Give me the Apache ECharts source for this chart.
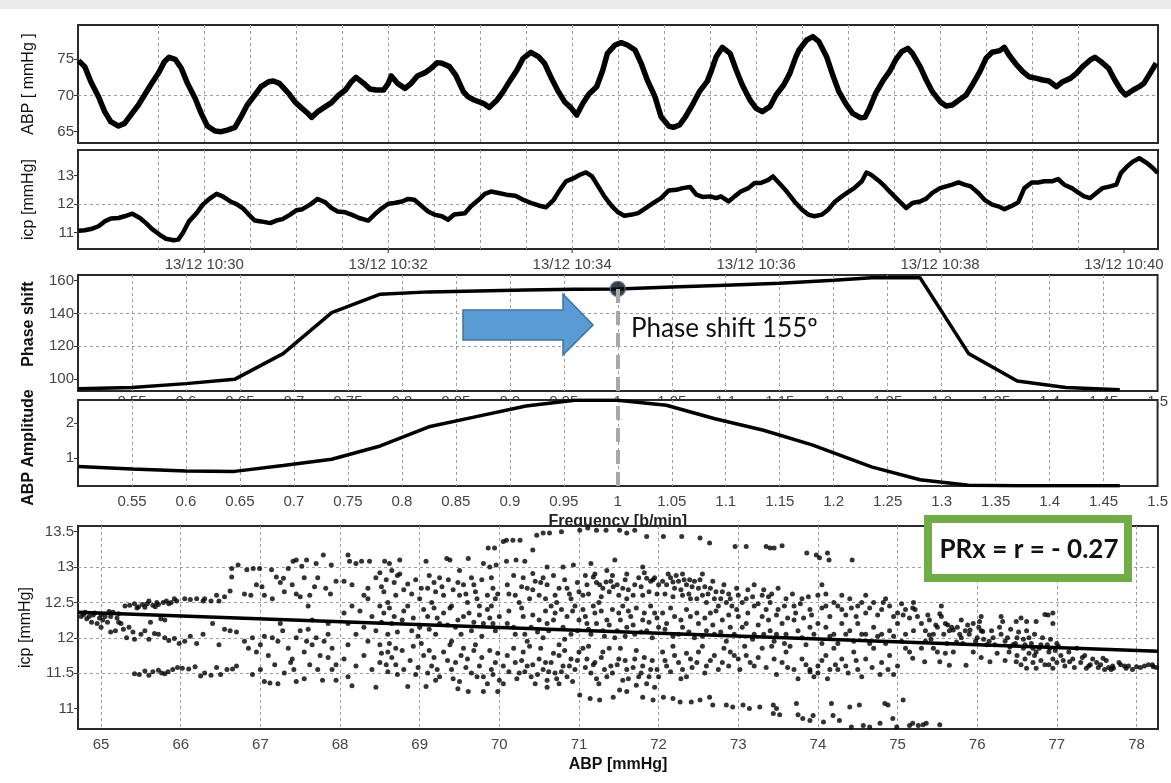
<!DOCTYPE html>
<html>
<head>
<meta charset="utf-8">
<script src="https://cdn.jsdelivr.net/npm/echarts@6/dist/echarts.min.js"></script>
<style>
  html, body { margin: 0; padding: 0; background: #fff; }
  #chart { width: 1171px; height: 783px; }
</style>
</head>
<body>
<div id="chart"></div>
<script>
// ---- Time series: seconds relative to 13/12 10:30:00 ----
const abpTrace = [
  [-82,74.82],[-78,73.99],[-74,71.91],[-69,69.84],[-65,67.77],[-61,66.38],[-56,65.78],[-52,66.15],[-48,67.30],[-43,68.69],
  [-39,70.07],[-35,71.45],[-30,73.06],[-26,74.68],[-23,75.28],[-19,75.0],[-15,73.76],[-11,71.68],[-6,69.61],[-2,67.53],
  [2,65.78],[7,65.09],[11,65.0],[15,65.23],[20,65.60],[24,67.07],[28,68.69],[33,70.07],[37,71.22],[42,71.91],
  [45,72.0],[49,71.68],[55,70.30],[59,69.15],[63,68.36],[68,67.44],[70,66.98],[74,67.77],[79,68.46],[83,69.01],
  [87,69.93],[92,70.76],[96,71.91],[99,72.51],[104,71.68],[108,70.90],[112,70.76],[117,70.76],[120,71.68],[122,72.70],
  [126,71.68],[131,70.99],[135,71.68],[139,72.70],[144,73.16],[148,73.76],[152,74.54],
  [155,74.45],[160,73.99],[164,72.83],[169,70.53],[172,69.84],[176,69.38],[182,68.92],[186,68.36],[191,69.38],[195,70.53],
  [199,71.91],[204,73.53],[208,75.14],[213,75.97],[218,75.37],[222,74.45],[226,72.60],[231,70.53],[235,69.15],[239,68.36],
  [243,67.30],[247,68.92],[251,70.21],[256,71.22],[260,73.53],[263,75.83],[268,76.98],[272,77.30],[276,76.98],[281,76.29],
  [285,74.45],[289,72.14],[294,69.84],[298,67.07],[303,65.78],[306,65.60],[310,65.92],[314,67.07],[319,68.92],[323,70.53],
  [328,71.91],[331,73.53],[334,75.37],[338,76.66],[343,75.83],[347,73.53],[351,71.45],[356,69.38],[360,68.23],[364,67.77],
  [369,68.46],[373,70.07],[378,71.45],[382,73.06],[386,75.37],
  [388,76.29],[393,77.67],[397,78.13],[401,77.44],[406,75.37],[410,72.83],[414,70.53],[419,68.69],[423,67.53],[428,66.94],
  [431,66.98],[434,68.23],[438,70.30],[443,72.14],[447,73.29],[451,74.91],[455,76.06],[459,76.52],[462,75.83],[467,73.99],
  [471,72.14],[475,70.53],[480,69.15],[484,68.55],[488,68.69],[493,69.47],[497,70.07],[501,71.45],[506,73.29],[510,75.14],
  [514,75.97],[519,76.20],[522,76.66],[525,75.60],[530,74.22],[534,73.29],[538,72.60],[543,72.37],[547,72.14],[551,72.0],
  [556,71.22],[560,71.91],[565,72.37],[569,73.06],[573,73.99],[578,74.91],[581,75.28],[585,74.68],[590,73.76],[594,72.14],
  [598,70.76],[601,70.07],[606,70.76],[610,71.22],[613,71.68],[617,73.06],[621,74.45]
];

const icpTrace = [
  [-82,11.06],[-78,11.08],[-74,11.12],[-69,11.22],[-65,11.39],[-61,11.49],[-56,11.51],[-52,11.57],[-47,11.66],[-42,11.51],
  [-38,11.33],[-34,11.12],[-29,10.92],[-25,10.78],[-20,10.73],[-17,10.75],[-14,10.98],[-10,11.39],[-5,11.68],[-1,11.98],
  [4,12.21],[8,12.36],[12,12.27],[17,12.09],[21,12.0],[25,11.86],[29,11.63],[33,11.42],[37,11.39],[43,11.33],
  [47,11.42],[51,11.47],[56,11.63],[60,11.78],[64,11.82],[69,11.98],[74,12.18],[79,12.06],[83,11.86],[87,11.74],
  [92,11.71],[96,11.63],[101,11.51],[107,11.42],[111,11.63],[116,11.86],[120,12.01],[124,12.04],[129,12.09],[133,12.18],
  [137,12.15],[142,11.92],[146,11.74],[150,11.63],
  [155,11.57],[159,11.45],[163,11.63],[170,11.68],[174,11.92],[179,12.15],[183,12.36],[187,12.44],[192,12.39],[197,12.33],
  [203,12.29],[208,12.15],[213,12.04],[218,11.95],[223,11.89],[228,12.15],[232,12.50],[236,12.80],[241,12.91],[245,13.03],
  [249,13.11],[253,12.97],[257,12.62],[261,12.27],[266,11.92],[270,11.71],[274,11.59],[279,11.63],[283,11.68],[287,11.82],
  [293,12.04],[298,12.21],[303,12.48],[308,12.50],[312,12.56],[317,12.60],[321,12.33],[325,12.25],[330,12.27],[334,12.21],
  [337,12.27],[342,12.09],[346,12.27],[350,12.44],[355,12.56],[359,12.74],[363,12.74],[368,12.85],[371,12.97],[375,12.74],
  [380,12.44],[385,12.09],
  [390,11.80],[394,11.63],[398,11.57],[403,11.63],[407,11.80],[411,12.06],[416,12.27],[420,12.42],[424,12.56],[429,12.80],
  [432,13.11],[435,13.03],[440,12.82],[444,12.62],[448,12.39],[453,12.12],[458,11.86],[462,12.04],[467,12.09],[471,12.19],
  [475,12.39],[480,12.56],[484,12.62],[488,12.68],[492,12.76],[496,12.68],[500,12.62],[505,12.39],[509,12.15],[514,11.98],
  [518,11.92],[522,11.82],[527,11.94],[531,12.06],[535,12.56],[540,12.76],[544,12.76],[548,12.80],[553,12.80],[557,12.88],
  [561,12.68],[566,12.56],[570,12.41],[574,12.27],[578,12.21],[582,12.39],[586,12.56],[591,12.62],[595,12.68],[598,13.09],
  [602,13.32],[606,13.50],[610,13.61],[615,13.44],[619,13.26],[622,13.09]
];

// ---- Transfer function: frequency [b/min] ----
const phaseShift = [
  [0.5,94.0],[0.55,94.8],[0.6,97.2],[0.645,99.8],[0.69,115.5],[0.735,140.5],[0.78,151.8],[0.825,153.2],[0.87,153.8],
  [0.915,154.4],[0.96,154.8],[1.0,155],[1.05,156.2],[1.1,157.3],[1.15,158.4],[1.2,160.3],[1.235,161.8],[1.28,161.8],
  [1.325,115.5],[1.37,98.8],[1.415,94.8],[1.465,93.4]
];
const abpAmplitude = [
  [0.5,0.76],[0.55,0.69],[0.6,0.63],[0.645,0.62],[0.69,0.79],[0.735,0.97],[0.78,1.35],[0.825,1.9],[0.87,2.2],
  [0.915,2.5],[0.96,2.66],[1.0,2.66],[1.045,2.52],[1.09,2.13],[1.135,1.8],[1.18,1.38],[1.235,0.75],[1.28,0.38],
  [1.325,0.22],[1.37,0.21],[1.415,0.21],[1.465,0.21]
];
const selectedFreq = 1.0;
const selectedPhase = 155;

// ---- ABP vs icp scatter ----
const prxPoints = [
  [64.78,12.33],[64.85,12.30],[64.92,12.35],[65.0,12.33],[65.05,12.30],[65.1,12.37],[65.15,12.36],[65.22,12.34],[65.3,12.45],[65.36,12.46],
  [65.42,12.48],[65.47,12.44],[65.55,12.43],[65.6,12.52],[65.65,12.46],[65.72,12.47],[65.78,12.5],[65.82,12.52],[65.88,12.5],[65.95,12.52],
  [66.05,12.55],[66.12,12.54],[66.2,12.55],[66.28,12.52],[66.38,12.52],[66.48,12.52],[66.55,12.58],[66.62,12.66],[65.75,12.27],[65.8,12.25],
  [65.68,12.44],[65.52,12.47],
  [64.75,12.3],[64.8,12.36],[64.9,12.32],[64.98,12.28],[65.02,12.25],[65.12,12.3],[65.2,12.28],[65.25,12.2],[65.45,12.42],[65.58,12.48],
  [65.7,12.5],[65.85,12.48],[65.92,12.55],
  [64.82,12.27],[64.88,12.22],[64.95,12.2],[65.0,12.15],[65.08,12.22],[65.12,12.08],[65.18,12.1],[65.22,12.22],[65.28,12.12],[65.32,12.0],
  [65.35,12.15],[65.4,12.08],[65.42,11.98],[65.5,12.05],[65.55,12.1],[65.6,11.98],[65.62,12.22],[65.67,12.06],[65.72,12.05],[65.8,12.0],
  [65.85,11.96],[65.92,11.99],[65.98,11.92],[66.05,11.95],[66.12,12.02],[66.2,11.92],[66.28,12.05],[66.4,12.2],[66.48,11.9],[66.55,12.12],
  [66.62,12.1],[66.7,12.08],
  [65.42,11.49],[65.48,11.48],[65.55,11.53],[65.6,11.47],[65.65,11.52],[65.72,11.54],[65.76,11.5],[65.8,11.49],[65.84,11.52],[65.9,11.55],
  [65.96,11.58],[66.02,11.57],[66.1,11.56],[66.18,11.59],[66.25,11.46],[66.3,11.5],[66.38,11.47],[66.45,11.58],[66.5,11.48],[66.58,11.55],
  [66.65,11.56],[66.7,11.6],
  [66.64,12.98],[66.72,13.03],[66.64,12.86],[66.83,12.96],[66.91,12.98],[66.99,12.98],[67.14,12.96],[67.2,12.86],[67.29,12.84],[67.35,12.98],
  [67.41,13.08],[67.45,13.1],[67.52,13.01],[67.58,13.1],[67.7,13.05],[67.79,13.17],[67.89,13.03],
  [66.8,12.62],[66.88,12.6],[66.95,12.75],[67.05,12.6],[67.15,12.55],[67.3,12.65],[67.5,12.58],[67.68,12.72],[67.82,12.7],[67.95,12.8],
  [66.3,12.55],[66.45,12.6],[67.6,12.45],[67.4,12.75],
  [67.02,12.72],[67.25,12.78],[67.45,12.62],[67.62,12.6],[67.72,12.85],[67.88,12.62],[67.55,12.85],
  [66.8,11.95],[66.85,11.85],[66.9,12.0],[66.95,11.8],[67.0,11.9],[67.05,12.02],[67.1,11.75],[67.15,12.0],[67.22,11.95],[67.28,12.1],
  [67.35,11.85],[67.4,11.7],[67.5,12.1],[67.55,11.8],[67.6,12.12],[67.65,11.9],[67.7,12.0],[67.75,11.75],[67.8,11.95],[67.85,12.2],
  [67.9,11.85],[67.95,11.62],[67.25,12.2],[67.45,12.0],[67.65,12.25],[67.85,12.05],[67.58,11.95],
  [66.9,11.48],[67.0,11.55],[67.05,11.38],[67.12,11.36],[67.18,11.62],[67.22,11.35],[67.3,11.5],[67.38,11.65],[67.45,11.38],[67.55,11.42],
  [67.72,11.55],[67.78,11.4],[67.9,11.55],[67.95,11.4],[67.42,11.55],[67.62,11.62],[67.85,11.72],
  [68.05,12.8],[68.1,13.17],[68.12,13.08],[68.15,12.75],[68.2,13.05],[68.27,13.08],[68.3,12.6],[68.35,12.7],[68.37,13.08],[68.45,12.85],
  [68.5,12.92],[68.55,12.65],[68.56,13.08],[68.62,13.05],[68.65,12.95],[68.7,12.6],[68.75,13.1],[68.8,12.68],[68.9,12.62],[69.0,12.55],
  [68.6,12.5],[68.75,12.9],
  [68.05,12.35],[68.1,12.2],[68.15,12.45],[68.2,12.05],[68.25,12.38],[68.3,12.15],[68.35,11.95],[68.4,12.3],[68.45,12.1],[68.5,11.9],
  [68.55,12.35],[68.6,12.05],[68.65,12.2],[68.7,11.85],[68.8,12.38],[68.9,12.1],[69.0,12.15],[68.35,12.55],[68.5,12.45],[68.6,11.8],
  [68.1,11.9],
  [68.05,11.7],[68.1,11.45],[68.15,11.32],[68.2,11.6],[68.3,11.75],[68.4,11.55],[68.45,11.3],[68.5,11.65],[68.6,11.52],[68.7,11.62],
  [68.65,11.72],[68.8,11.55],[68.85,11.31],[68.95,11.48],
  [68.52,12.72],[68.58,12.82],[68.68,12.78],[68.72,12.88],[68.85,12.76],[68.95,12.82],[69.02,12.7],[69.12,12.88],[69.18,12.78],[69.28,12.72],
  [69.36,12.82],[69.42,12.68],[69.48,12.78],[69.58,12.62],[69.68,12.75],[69.72,12.55],[69.78,12.82],[69.92,12.7],[69.98,12.62],
  [68.52,12.22],[68.62,12.42],[68.68,12.3],[68.72,12.08],[68.78,12.25],[68.85,12.45],[68.92,12.28],[68.98,12.02],[69.05,12.4],[69.12,12.12],
  [69.18,12.42],[69.22,12.28],[69.35,12.18],[69.38,12.42],[69.48,12.25],[69.52,12.05],[69.62,12.35],[69.68,12.22],[69.75,12.32],[69.78,12.02],
  [69.88,12.28],[69.92,12.2],
  [68.52,11.78],[68.58,11.62],[68.62,11.92],[68.72,11.48],[68.78,11.82],[68.88,11.68],[68.92,11.88],[68.98,11.58],[69.02,11.92],[69.12,11.82],
  [69.18,11.72],[69.22,11.55],[69.35,11.68],[69.38,11.9],[69.42,11.42],[69.52,11.75],[69.58,11.58],[69.68,11.82],[69.72,11.45],[69.78,11.72],
  [69.88,11.82],[69.92,11.48],[69.98,11.78],
  [69.08,13.08],[69.34,13.12],[69.38,13.1],[69.61,13.12],[69.5,12.95],[69.8,13.05],[69.9,12.85],[69.88,13.0],[69.96,13.03],
  [69.1,12.7],[69.15,12.5],[69.2,12.65],[69.3,12.6],[69.4,12.45],[69.5,12.6],[69.55,12.75],[69.6,12.5],[69.7,12.65],[69.75,12.45],
  [69.85,12.6],[69.9,12.45],[69.95,12.55],[69.25,12.85],[69.65,12.85],
  [69.1,12.3],[69.2,12.05],[69.25,12.2],[69.3,12.35],[69.4,11.95],[69.45,12.15],[69.55,12.3],[69.65,12.1],[69.7,11.9],[69.8,12.2],
  [69.85,12.4],[69.95,12.1],[70.0,12.3],
  [69.05,11.75],[69.1,11.5],[69.15,11.6],[69.25,11.45],[69.3,11.8],[69.4,11.55],[69.45,11.65],[69.5,11.38],[69.6,11.7],[69.65,11.5],
  [69.75,11.6],[69.8,11.45],[69.85,11.35],[69.9,11.55],[69.95,11.65],[70.0,11.4],[69.2,11.4],[69.55,11.85],
  [69.08,11.31],[69.48,11.28],[69.61,11.24],[69.8,11.24],[69.98,11.24],
  [69.86,13.27],[69.94,13.27],[70.05,13.36],[70.09,13.38],[70.17,13.38],[70.26,13.38],[70.42,13.24],[70.47,13.45],[70.55,13.48],[70.63,13.48],
  [70.78,13.5],[71.01,13.52],[71.11,13.55],[71.22,13.52],[71.34,13.52],[71.51,13.52],[71.6,13.48],[71.7,13.52],[71.85,13.43],[72.06,13.43],
  [72.29,13.43],[72.52,13.41],[72.64,13.34],[72.96,13.29],[73.1,13.29],[73.35,13.29],[73.4,13.27],
  [70.09,13.08],[70.21,13.1],[70.32,13.08],[70.42,12.91],[70.93,13.03],[71.18,12.86],[71.26,12.75],[71.34,12.79],[71.43,12.72],[71.85,12.84],
  [71.93,12.82],[72.18,12.79],[72.39,12.82],[70.6,13.0],[70.8,13.0],[71.15,13.05],[71.45,13.1],[71.8,13.0],
  [70.1,12.75],[70.2,12.6],[70.3,12.85],[70.35,12.7],[70.45,12.8],[70.5,12.6],[70.6,12.75],[70.7,12.6],[70.75,12.7],[70.85,12.7],
  [70.9,12.55],[71.0,12.65],[70.55,12.85],[70.25,12.5],[70.65,12.45],[70.95,12.45],
  [70.12,12.62],[70.18,12.88],[70.28,12.72],[70.38,12.55],[70.42,12.68],[70.52,12.78],[70.58,12.55],[70.68,12.88],[70.72,12.5],[70.82,12.82],
  [70.88,12.62],[70.98,12.78],
  [70.1,12.2],[70.2,12.05],[70.3,12.3],[70.4,12.15],[70.5,12.25],[70.55,12.0],[70.6,12.2],[70.7,12.35],[70.8,12.15],[70.85,12.3],
  [70.9,12.05],[71.0,12.25],[70.35,11.95],[70.75,11.9],
  [70.12,12.38],[70.18,12.15],[70.28,12.42],[70.32,12.05],[70.42,12.32],[70.48,12.08],[70.58,12.38],[70.62,12.1],[70.68,12.25],[70.78,12.4],
  [70.82,11.98],[70.92,12.38],[70.98,12.1],
  [70.05,11.6],[70.1,11.75],[70.2,11.65],[70.25,11.5],[70.3,11.8],[70.35,11.6],[70.4,11.45],[70.5,11.7],[70.55,11.55],[70.6,11.4],
  [70.65,11.65],[70.7,11.5],[70.75,11.75],[70.8,11.6],[70.85,11.45],[70.9,11.7],[70.95,11.55],[71.0,11.8],[70.6,11.3],[70.75,11.35],
  [70.05,11.35],[70.45,11.35],
  [70.12,11.52],[70.18,11.85],[70.22,11.42],[70.28,11.68],[70.32,11.52],[70.38,11.88],[70.42,11.62],[70.48,11.48],[70.52,11.85],[70.58,11.65],
  [70.62,11.52],[70.68,11.78],[70.72,11.42],[70.78,11.52],[70.82,11.82],[70.88,11.6],[70.92,11.38],[70.98,11.68],
  [71.05,12.6],[71.1,12.75],[71.2,12.9],[71.3,12.7],[71.35,12.95],[71.4,12.8],[71.5,12.6],[71.55,12.7],[71.6,12.55],[71.7,12.75],
  [71.75,12.85],[71.8,12.6],[71.9,12.8],[71.95,12.85],[72.0,12.75],[71.6,12.9],
  [71.08,12.88],[71.12,12.62],[71.22,12.78],[71.28,12.58],[71.38,12.65],[71.42,12.88],[71.48,12.75],[71.58,12.82],[71.62,12.68],[71.68,12.6],
  [71.78,12.72],[71.82,12.92],[71.88,12.65],[71.98,12.62],
  [71.05,12.4],[71.1,12.2],[71.15,12.05],[71.2,12.35],[71.3,12.1],[71.35,12.25],[71.45,12.0],[71.5,12.35],[71.6,12.15],[71.65,12.3],
  [71.7,12.05],[71.8,12.25],[71.85,12.1],[71.95,12.35],[72.0,12.15],[71.25,12.5],[71.55,12.45],[71.9,12.45],
  [71.08,12.3],[71.12,12.12],[71.18,12.45],[71.22,12.2],[71.28,12.38],[71.32,12.02],[71.38,12.18],[71.42,12.4],[71.48,12.1],[71.52,12.25],
  [71.58,12.02],[71.62,12.38],[71.68,12.18],[71.72,12.42],[71.78,12.08],[71.82,12.35],[71.88,12.22],[71.92,12.0],[71.98,12.28],
  [71.05,11.85],[71.1,11.7],[71.15,11.5],[71.2,11.65],[71.3,11.8],[71.35,11.45],[71.4,11.6],[71.5,11.7],[71.55,11.4],[71.6,11.55],
  [71.7,11.7],[71.75,11.45],[71.8,11.6],[71.85,11.35],[71.9,11.55],[71.95,11.3],[72.0,11.45],[71.25,11.35],
  [71.08,11.58],[71.12,11.88],[71.18,11.62],[71.22,11.42],[71.28,11.72],[71.32,11.55],[71.38,11.85],[71.42,11.5],[71.48,11.62],[71.52,11.85],
  [71.58,11.68],[71.62,11.42],[71.68,11.58],[71.72,11.82],[71.78,11.5],[71.82,11.72],[71.88,11.45],[71.92,11.68],[71.98,11.55],
  [71.01,11.19],[71.14,11.14],[71.26,11.12],[71.43,11.16],[71.51,11.26],[71.6,11.24],[71.72,11.33],[71.8,11.16],[71.93,11.12],[72.06,11.16],
  [72.18,11.14],[72.27,11.09],[72.41,11.09],[72.52,11.12],[72.64,11.16],[72.68,11.05],[72.85,11.05],[72.93,11.02],[73.06,11.05],[73.14,11.0],
  [73.27,11.02],[73.44,10.93],[73.48,11.0],
  [73.44,11.05],[73.52,10.91],[73.73,11.07],[73.75,10.91],[73.81,10.86],[73.9,10.83],[73.94,10.9],[74.07,10.81],[74.17,11.07],[74.19,10.9],
  [74.27,10.83],[74.4,11.02],[74.42,10.74],[74.52,11.05],[74.57,10.76],[74.65,10.74],[74.78,10.79],[74.84,11.07],[74.88,11.05],[74.94,10.86],
  [74.99,10.74],[75.07,11.12],[75.15,10.76],[75.19,10.79],[75.26,10.76],[75.32,10.77],[75.36,10.79],[75.53,10.77],
  [72.05,12.8],[72.1,12.75],[72.15,12.85],[72.2,12.7],[72.25,12.8],[72.3,12.6],[72.35,12.75],[72.4,12.55],[72.45,12.8],[72.5,12.7],
  [72.55,12.6],[72.6,12.5],[72.65,12.7],[72.7,12.55],[72.8,12.65],[72.85,12.5],[72.9,12.55],[73.0,12.6],[72.3,12.9],[72.55,12.9],
  [72.08,12.62],[72.12,12.9],[72.18,12.58],[72.22,12.88],[72.28,12.68],[72.32,12.82],[72.38,12.62],[72.42,12.72],[72.48,12.55],[72.52,12.82],
  [72.58,12.72],[72.62,12.62],[72.68,12.8],[72.72,12.65],[72.78,12.55],[72.82,12.75],[72.88,12.62],[72.92,12.45],[72.98,12.7],[73.05,12.5],
  [73.12,12.68],[73.18,12.58],[73.25,12.48],[73.32,12.68],[73.38,12.58],
  [72.05,12.35],[72.1,12.2],[72.2,12.3],[72.25,12.05],[72.3,12.15],[72.4,12.3],[72.45,12.0],[72.5,12.2],[72.6,12.1],[72.65,12.35],
  [72.7,12.05],[72.8,12.25],[72.85,11.95],[72.9,12.15],[73.0,12.3],[72.75,12.45],
  [72.08,12.12],[72.15,12.42],[72.18,12.02],[72.28,12.25],[72.35,12.4],[72.38,12.08],[72.48,12.35],[72.55,12.02],[72.58,12.28],[72.68,12.18],
  [72.72,12.38],[72.78,12.08],[72.88,12.32],[72.95,12.05],[72.98,12.4],[73.05,12.15],[73.12,12.35],[73.18,11.98],[73.25,12.18],[73.32,12.05],
  [73.38,12.25],
  [72.05,11.8],[72.1,11.6],[72.2,11.75],[72.3,11.55],[72.4,11.7],[72.5,11.8],[72.6,11.6],[72.7,11.75],[72.8,11.65],[72.9,11.8],
  [73.0,11.7],[72.35,11.45],
  [72.08,11.68],[72.15,11.52],[72.18,11.88],[72.25,11.65],[72.28,11.42],[72.35,11.78],[72.42,11.58],[72.48,11.65],[72.55,11.88],[72.58,11.5],
  [72.65,11.68],[72.75,11.55],[72.82,11.85],[72.88,11.6],[72.95,11.75],[73.02,11.55],[73.08,11.88],[73.15,11.65],[73.25,11.72],[73.35,11.58],
  [73.1,12.55],[73.2,12.45],[73.3,12.6],[73.4,12.5],[73.5,12.4],[73.6,12.55],[73.7,12.45],[73.8,12.55],[73.9,12.4],[74.0,12.6],
  [74.05,12.75],[74.1,12.62],[73.2,12.75],[73.5,12.7],
  [73.42,12.62],[73.48,12.32],[73.58,12.45],[73.62,12.28],[73.68,12.62],[73.72,12.35],[73.78,12.48],[73.82,12.28],[73.88,12.58],[73.92,12.32],
  [74.05,12.42],[74.15,12.3],[74.25,12.45],[74.35,12.32],[74.42,12.42],[74.48,12.3],[74.55,12.5],[74.65,12.42],[74.75,12.32],[74.82,12.5],
  [74.95,12.3],[75.05,12.48],[75.15,12.28],[75.22,12.4],
  [73.1,12.2],[73.2,12.05],[73.3,12.3],[73.4,12.1],[73.45,11.95],[73.55,12.2],[73.6,12.05],[73.7,12.25],[73.8,12.0],[73.9,12.15],
  [74.0,12.2],[73.35,12.4],
  [73.42,11.88],[73.48,12.05],[73.58,11.92],[73.65,11.88],[73.75,12.1],[73.85,11.9],[73.95,12.05],[74.05,11.92],[74.15,12.02],[74.25,11.92],
  [74.35,12.05],[74.45,11.95],[74.55,12.05],[74.65,11.92],[74.75,12.02],[74.85,11.92],[74.95,12.02],[75.05,11.95],
  [73.1,11.75],[73.2,11.6],[73.3,11.85],[73.45,11.7],[73.6,11.8],[73.7,11.55],[73.8,11.7],[73.9,11.55],[74.0,11.6],[73.55,11.65],
  [73.48,11.48],[73.62,11.58],[73.75,11.42],[73.85,11.62],[73.95,11.45],[74.05,11.68],[74.12,11.42],[74.22,11.62],[74.38,11.5],[74.48,11.68],
  [74.55,11.45],[74.68,11.58],[74.78,11.48],[74.88,11.55],[74.95,11.48],
  [73.45,13.27],[73.55,13.3],[73.86,13.2],[73.98,13.17],[74.02,13.13],[74.12,13.2],[74.14,13.1],[74.43,13.1],
  [74.1,12.45],[74.2,12.5],[74.3,12.4],[74.4,12.55],[74.5,12.45],[74.6,12.35],[74.7,12.5],[74.8,12.4],[74.9,12.45],[75.0,12.35],
  [75.1,12.4],[75.2,12.5],[75.25,12.3],[74.3,12.6],[74.6,12.6],[74.85,12.55],
  [74.1,12.15],[74.2,12.05],[74.3,12.2],[74.4,12.1],[74.5,12.2],[74.6,12.05],[74.7,12.15],[74.8,12.05],[74.9,12.1],[75.0,12.2],
  [75.1,12.05],[75.2,12.1],
  [74.1,11.75],[74.2,11.85],[74.3,11.7],[74.35,11.6],[74.45,11.8],[74.5,11.55],[74.6,11.7],[74.7,11.85],[74.8,11.65],[74.9,11.75],
  [75.0,11.6],[74.25,11.55],[74.0,11.5],[73.9,11.52],[74.15,11.55],
  [75.07,12.32],[75.19,12.42],[75.38,12.32],[75.53,12.34],[75.63,12.18],[75.7,12.11],[75.91,12.11],[76.03,12.23],[76.07,12.09],[76.32,12.23],
  [76.49,12.23],[76.62,12.23],[76.74,12.23],[76.89,12.32],[76.95,12.2],
  [75.3,12.2],[75.4,12.25],[75.5,12.15],[75.55,12.3],[75.6,12.2],[75.65,12.1],[75.75,12.15],[75.8,12.25],[75.85,12.1],[75.9,12.05],
  [75.95,12.2],[76.0,12.0],[75.45,12.05],[75.55,12.45],[75.3,11.85],[75.45,11.85],[75.7,11.8],[75.95,11.8],[75.35,11.95],[75.8,12.0],
  [75.1,11.85],[75.15,11.8],[75.5,11.8],[75.6,11.78],[75.4,12.04],[75.74,11.94],[76.12,11.9],[76.41,11.87],[76.58,11.85],[76.74,11.8],
  [76.91,11.85],
  [75.35,12.1],[75.42,11.98],[75.48,12.18],[75.58,12.05],[75.62,11.92],[75.68,12.15],[75.78,12.05],[75.82,11.92],[75.88,12.18],[75.98,11.95],
  [76.02,12.15],[76.08,11.98],[76.18,12.1],[76.22,11.9],[76.28,12.15],[76.38,12.0],[76.42,12.12],[76.48,11.92],[76.52,12.08],[76.58,11.98],
  [76.62,12.1],[76.68,11.92],[76.72,12.05],[76.78,11.85],[76.82,12.0],[76.88,11.9],[76.92,11.98],[76.98,11.82],[77.02,11.88],
  [75.19,11.71],[75.34,11.66],[75.53,11.66],[75.65,11.61],[75.86,11.61],[76.16,11.66],[76.49,11.66],[76.62,11.57],[76.74,11.57],[76.95,11.57],
  [77.16,11.66],[77.37,11.57],[77.58,11.71],[77.71,11.57],[77.87,11.57],[78.0,11.59],[78.21,11.59],
  [76.05,12.1],[76.15,11.95],[76.2,12.0],[76.3,12.05],[76.35,11.95],[76.45,11.9],[76.5,12.0],[76.6,11.9],[76.65,12.0],[76.7,11.85],
  [76.8,11.9],[76.9,11.8],[77.0,11.92],[76.05,12.3],[76.3,12.3],[76.55,12.28],[76.85,12.33],[76.95,12.35],
  [76.5,11.75],[76.6,11.7],[76.7,11.65],[76.8,11.68],[76.9,11.62],[77.0,11.65],[76.65,11.78],[76.95,11.7],[76.4,11.8],
  [76.05,11.72],[76.25,11.78],[76.35,11.68],[76.55,11.62],[76.72,11.75],[76.85,11.62],[77.08,11.68],[77.22,11.58],[77.32,11.72],[77.42,11.62],
  [77.52,11.58],[77.62,11.68],[77.68,11.55],[77.78,11.65],[77.85,11.6],[77.95,11.55],[78.05,11.58],[78.15,11.62],[78.25,11.58],
  [77.1,11.6],[77.2,11.7],[77.3,11.65],[77.35,11.75],[77.4,11.6],[77.5,11.65],[77.6,11.55],[77.7,11.6],[77.8,11.62],[77.9,11.6],
  [78.1,11.6],[78.2,11.62],[77.15,11.8],[77.25,11.85],[77.05,11.75],[77.45,11.7],[77.55,11.62],[77.65,11.58]
];
const prxFit = [[64.71,12.36],[78.27,11.81]];
const prxValue = -0.27;

// ---- Axis extents and tick labels ----
const timeRange = [-82.4, 622.2];
const timeGrid = [-60, -30, 0, 30, 60, 90, 120, 150, 180, 210, 240, 270, 300, 330, 360, 390, 420, 450, 480, 510, 540, 570, 600];
const timeLabelTicks = [0, 120, 240, 360, 480, 600];
const abpRange = [63.44, 79.74];   const abpTicks = [65, 70, 75];
const icpRange = [10.42, 13.9];    const icpTicks = [11, 12, 13];
const phaseRange = [92.7, 163.5];  const phaseTicks = [100, 120, 140, 160];
const ampRange = [0.2, 2.67];      const ampTicks = [1, 2];
const freqRange = [0.5, 1.5];
const scatterXRange = [64.71, 78.27];
const scatterXTicks = [65, 66, 67, 68, 69, 70, 71, 72, 73, 74, 75, 76, 77, 78];
const scatterYRange = [10.71, 13.58];
const scatterYTicks = [11, 11.5, 12, 12.5, 13, 13.5];

const FONT = '"Liberation Sans", Arial, sans-serif';
const gridLine = { show: true, showMinLine: false, showMaxLine: false,
  lineStyle: { color: '#9c9c9c', type: [3, 3], width: 1 } };
const tickLabel = { color: '#444', fontSize: 15, fontFamily: FONT };
const noLine = { show: false, onZero: false };

function clockLabel(v) {
  const mm = 30 + Math.round(v / 60);
  return '13/12 10:' + String(mm).padStart(2, '0');
}

function yAxis(gridIndex, range, ticks, splitNumber, name, bold, extra) {
  return Object.assign({
    type: 'value', gridIndex, min: range[0], max: range[1], splitNumber,
    axisLine: noLine,
    axisTick: { show: true, customValues: ticks, length: 4, lineStyle: { color: '#333', width: 1 } },
    axisLabel: Object.assign({ customValues: ticks, margin: 4,
      formatter: v => (ticks.some(t => Math.abs(t - v) < 1e-6) ? String(v) : '') }, tickLabel),
    splitLine: gridLine,
    name, nameLocation: 'middle', nameGap: 41,
    nameTextStyle: { fontSize: 16, color: '#111', fontFamily: FONT, fontWeight: bold ? 'bold' : 'normal' }
  }, extra || {});
}

const panel = { left: 78, width: 1080, show: true, backgroundColor: '#fff', borderColor: '#2a2a2a', borderWidth: 2 };

const chart = echarts.init(document.getElementById('chart'), null, { renderer: 'canvas' });
chart.setOption({
  animation: false,
  backgroundColor: '#fff',
  grid: [
    Object.assign({ top: 25, height: 118 }, panel),
    Object.assign({ top: 150, height: 99 }, panel),
    Object.assign({ top: 275, height: 116 }, panel),
    Object.assign({ top: 400, height: 86, z: 1 }, panel),
    Object.assign({ top: 526, height: 203, z: 5 }, panel)
  ],
  xAxis: [
    { type: 'value', gridIndex: 0, min: timeRange[0], max: timeRange[1], splitNumber: 23,
      axisLine: noLine, axisTick: { show: false, customValues: timeGrid }, axisLabel: { show: false }, splitLine: gridLine },
    { type: 'value', gridIndex: 1, min: timeRange[0], max: timeRange[1], splitNumber: 23,
      axisLine: noLine, axisTick: { show: false, customValues: timeGrid },
      axisLabel: Object.assign({ customValues: timeLabelTicks, margin: 8, formatter: clockLabel }, tickLabel),
      splitLine: gridLine },
    { type: 'value', gridIndex: 2, min: freqRange[0], max: freqRange[1], interval: 0.05, z: 0,
      axisLine: noLine, axisTick: { show: false },
      axisLabel: Object.assign({ margin: 3, showMinLabel: false }, tickLabel),
      splitLine: gridLine },
    { type: 'value', gridIndex: 3, min: freqRange[0], max: freqRange[1], interval: 0.05, z: 2,
      axisLine: noLine, axisTick: { show: false },
      axisLabel: Object.assign({ margin: 8, showMinLabel: false }, tickLabel),
      splitLine: gridLine,
      name: 'Frequency [b/min]', nameLocation: 'middle', nameGap: 28,
      nameTextStyle: { fontSize: 16, fontWeight: 'bold', color: '#222', fontFamily: FONT } },
    { type: 'value', gridIndex: 4, min: scatterXRange[0], max: scatterXRange[1], splitNumber: 14, z: 6,
      axisLine: noLine, axisTick: { show: false },
      axisLabel: Object.assign({ customValues: scatterXTicks, margin: 8 }, tickLabel),
      splitLine: gridLine,
      name: 'ABP [mmHg]', nameLocation: 'middle', nameGap: 28,
      nameTextStyle: { fontSize: 16, fontWeight: 'bold', color: '#111', fontFamily: FONT } }
  ],
  yAxis: [
    yAxis(0, abpRange, abpTicks, 3, 'ABP [ mmHg ]', false),
    yAxis(1, icpRange, icpTicks, 3, 'icp [mmHg]', false),
    yAxis(2, phaseRange, phaseTicks, 4, 'Phase shift', true,
      { nameTextStyle: { fontSize: 16, fontWeight: 'bold', color: '#111', fontFamily: FONT, padding: [0, 0, 0, 18] } }),
    yAxis(3, ampRange, ampTicks, 2, 'ABP Amplitude', true,
      { z: 2, nameTextStyle: { fontSize: 16, fontWeight: 'bold', color: '#111', fontFamily: FONT, padding: [0, 9, 0, 0] } }),
    yAxis(4, scatterYRange, scatterYTicks, 6, 'icp [mmHg]', false, { z: 6 })
  ],
  series: [
    { name: 'ABP', type: 'line', xAxisIndex: 0, yAxisIndex: 0, data: abpTrace, showSymbol: false,
      lineStyle: { color: '#000', width: 5.5, join: 'round' }, z: 2 },
    { name: 'icp', type: 'line', xAxisIndex: 1, yAxisIndex: 1, data: icpTrace, showSymbol: false,
      lineStyle: { color: '#000', width: 4.5, join: 'round' }, z: 2 },
    { name: 'Phase shift', type: 'line', xAxisIndex: 2, yAxisIndex: 2, data: phaseShift, showSymbol: false,
      lineStyle: { color: '#000', width: 3.5 }, z: 2,
      markLine: { silent: true, symbol: ['none', 'none'], label: { show: false },
        lineStyle: { color: '#a8a8a8', width: 4, type: [14, 8] },
        data: [[{ coord: [selectedFreq, selectedPhase] }, { coord: [selectedFreq, phaseRange[0]] }]] } },
    { name: 'Selected', type: 'scatter', xAxisIndex: 2, yAxisIndex: 2, data: [[selectedFreq, selectedPhase]],
      symbolSize: 15, itemStyle: { color: '#0d0d0d', borderColor: '#3f6fa8', borderWidth: 1.5 }, z: 4 },
    { name: 'ABP Amplitude', type: 'line', xAxisIndex: 3, yAxisIndex: 3, data: abpAmplitude, showSymbol: false,
      lineStyle: { color: '#000', width: 3.5 }, z: 3,
      markLine: { silent: true, symbol: ['none', 'none'], label: { show: false },
        lineStyle: { color: '#a8a8a8', width: 4, type: [14, 8] },
        data: [{ xAxis: selectedFreq }] } },
    { name: 'ABP vs icp', type: 'scatter', xAxisIndex: 4, yAxisIndex: 4, data: prxPoints,
      symbolSize: 5, itemStyle: { color: '#000' }, z: 7 },
    { name: 'Regression', type: 'line', xAxisIndex: 4, yAxisIndex: 4, data: prxFit, showSymbol: false,
      lineStyle: { color: '#000', width: 3.5 }, z: 8 }
  ],
  graphic: [
    { type: 'rect', z: 30, silent: true, shape: { x: 0, y: 0, width: 1171, height: 9 }, style: { fill: '#ececec' } },
    // tick marks under the labelled clock times
    ...timeLabelTicks.map(t => ({ type: 'line', z: 30, silent: true, $action: 'merge',
      shape: { x1: 0, y1: 0, x2: 0, y2: 0 }, id: 'tick' + t, style: { stroke: '#333', lineWidth: 1 } })),
    { type: 'polygon', z: 30, silent: true,
      shape: { points: [[463, 310], [563, 310], [563, 294], [593, 325], [563, 355], [563, 340], [463, 340]] },
      style: { fill: '#5b9bd5', stroke: '#41719c', lineWidth: 1.5 } },
    { type: 'text', z: 30, silent: true,
      style: { x: 631, y: 329, text: 'Phase shift ' + selectedPhase + 'º', font: '26px Lato', fill: '#111',
        verticalAlign: 'middle', align: 'left' } },
    { type: 'rect', z: 30, silent: true, shape: { x: 928, y: 519, width: 200, height: 59 },
      style: { fill: '#fff', stroke: '#70ad47', lineWidth: 8 } },
    { type: 'text', z: 31, silent: true,
      style: { x: 1029, y: 550, text: 'PRx = r = - ' + Math.abs(prxValue).toFixed(2), font: 'bold 26px Lato', fill: '#111',
        align: 'center', verticalAlign: 'middle' } }
  ]
});

// place the clock tick marks through the axis scale
const tickTop = 249;
chart.setOption({
  graphic: timeLabelTicks.map(t => {
    const x = chart.convertToPixel({ xAxisIndex: 1 }, t);
    return { id: 'tick' + t, shape: { x1: x, y1: tickTop, x2: x, y2: tickTop + 4 } };
  })
});
</script>
</body>
</html>
